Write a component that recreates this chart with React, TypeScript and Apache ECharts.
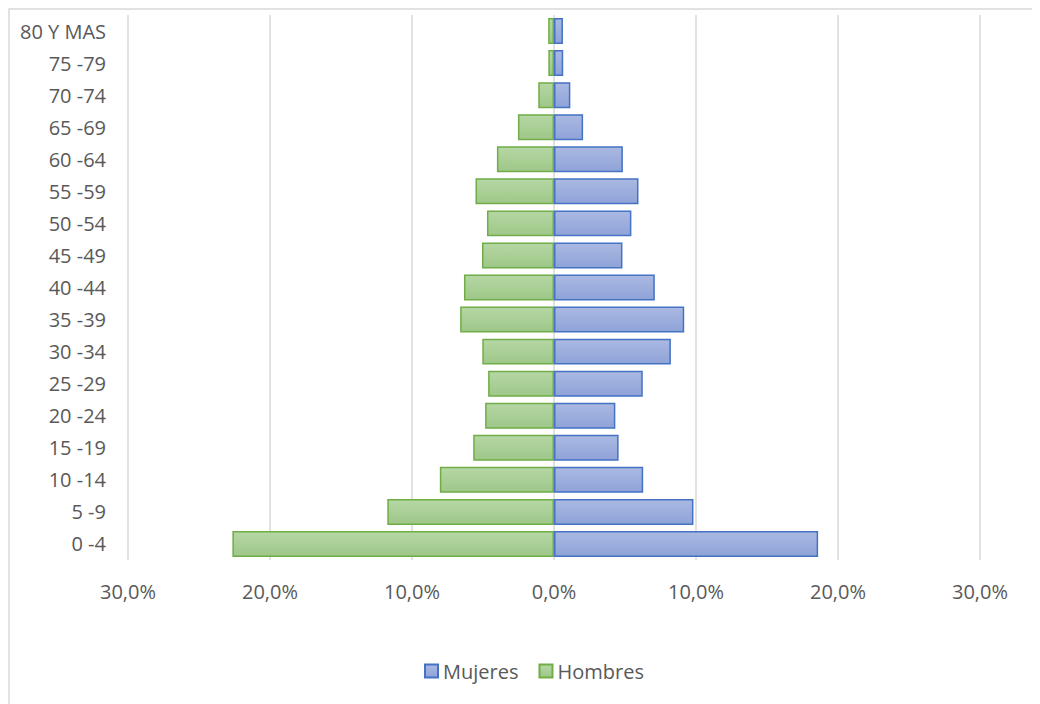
import React, { useEffect, useRef } from "react";
import * as echarts from "echarts";

// Age groups, listed from the youngest (bottom) to the oldest (top)
const ageGroups = [
  "0 -4", "5 -9", "10 -14", "15 -19", "20 -24", "25 -29", "30 -34", "35 -39",
  "40 -44", "45 -49", "50 -54", "55 -59", "60 -64", "65 -69", "70 -74", "75 -79", "80 Y MAS",
];

// Share of the female population per age group (%)
const mujeres = [
  18.6, 9.82, 6.28, 4.55, 4.32, 6.25, 8.23, 9.17,
  7.1, 4.82, 5.45, 5.95, 4.85, 2.05, 1.15, 0.65, 0.63,
];

// Share of the male population per age group (%), drawn to the left
const hombres = [
  22.65, 11.74, 8.04, 5.69, 4.85, 4.64, 5.05, 6.61,
  6.34, 5.07, 4.72, 5.53, 4.02, 2.54, 1.11, 0.4, 0.41,
];

const FONT = "'Open Sans', 'Liberation Sans', sans-serif";
const TEXT = "#595959";
const GRID = "#d9d9d9";
const FS = 20;

const fmtPct = (v: number) => Math.abs(v).toFixed(1).replace(".", ",") + "%";

export default function App() {
  const ref = useRef<HTMLDivElement>(null);

  useEffect(() => {
    if (!ref.current) return;
    const chart = echarts.init(ref.current, undefined, { renderer: "svg" });

    const blueFill = new echarts.graphic.LinearGradient(0, 0, 0, 1, [
      { offset: 0, color: "#abb9e2" },
      { offset: 1, color: "#8ea3d8" },
    ]);
    const greenFill = new echarts.graphic.LinearGradient(0, 0, 0, 1, [
      { offset: 0, color: "#b6d7a4" },
      { offset: 1, color: "#9ec788" },
    ]);

    chart.setOption({
      animation: false,
      textStyle: { fontFamily: FONT },
      graphic: [
        {
          type: "rect",
          silent: true,
          shape: { x: 1, y: 1, width: 3000, height: 3000 },
          style: { fill: "none", stroke: GRID, lineWidth: 1.5 },
        },
      ],
      grid: { left: 120, right: 60, top: 7, bottom: 144, containLabel: false },
      legend: {
        data: ["Mujeres", "Hombres"],
        left: 411,
        top: 648,
        icon: "rect",
        itemWidth: 13,
        itemHeight: 13,
        itemGap: 20,
        textStyle: { color: TEXT, fontSize: FS, fontFamily: FONT },
      },
      xAxis: {
        type: "value",
        min: -30,
        max: 30,
        interval: 10,
        axisLine: { show: false },
        axisTick: { show: false },
        splitLine: { show: true, lineStyle: { color: GRID, width: 1.5 } },
        axisLabel: {
          formatter: fmtPct,
          color: TEXT,
          fontSize: FS,
          fontFamily: FONT,
          margin: 21,
        },
      },
      yAxis: {
        type: "category",
        data: ageGroups,
        axisLine: { show: false },
        axisTick: { show: false },
        splitLine: { show: false },
        axisLabel: { color: TEXT, fontSize: FS, fontFamily: FONT, margin: 22 },
      },
      series: [
        {
          name: "Mujeres",
          type: "bar",
          stack: "pyramid",
          barCategoryGap: "19%",
          data: mujeres,
          itemStyle: { color: blueFill, borderColor: "#4472c4", borderWidth: 1.5 },
        },
        {
          name: "Hombres",
          type: "bar",
          stack: "pyramid",
          barCategoryGap: "19%",
          data: hombres.map((v) => -v),
          itemStyle: { color: greenFill, borderColor: "#70ad47", borderWidth: 1.5 },
        },
      ],
    });

    return () => chart.dispose();
  }, []);

  return <div ref={ref} style={{ width: 1032, height: 696 }} />;
}
